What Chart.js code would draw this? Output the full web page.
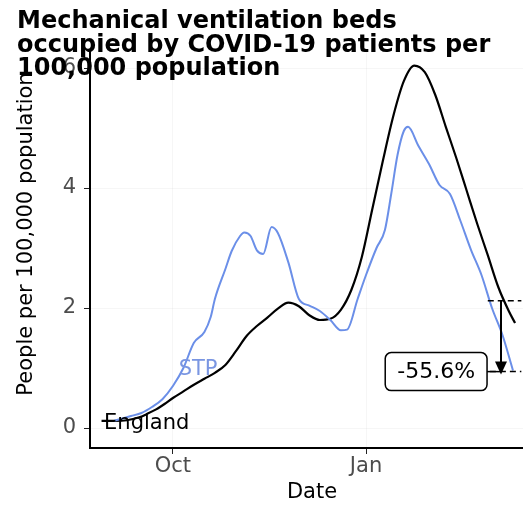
<!DOCTYPE html>
<html>
<head>
<meta charset="utf-8">
<script src="https://cdn.jsdelivr.net/npm/chart.js@4.4.1/dist/chart.umd.min.js"></script>
<style>
  html, body { margin: 0; padding: 0; background: #fff; overflow: hidden; }
  #wrap { width: 535px; height: 506px; }
</style>
</head>
<body>
<div id="wrap"><canvas id="chart" width="535" height="506"></canvas></div>
<script>
// days are counted from 1 October
const englandDays = [-34, -28, -22, -16, -12, -8, -4, 0, 5, 10, 15, 20, 25, 30, 35, 40, 45, 50, 55, 60, 65, 70, 75, 80, 85, 90, 95, 100, 105, 110, 115, 120, 125, 130, 135, 140, 145, 150, 155, 160, 163];
const englandValues = [0.12, 0.12, 0.13, 0.18, 0.24, 0.31, 0.4, 0.5, 0.61, 0.72, 0.82, 0.92, 1.05, 1.28, 1.53, 1.7, 1.84, 1.99, 2.09, 2.03, 1.88, 1.8, 1.82, 1.97, 2.3, 2.85, 3.65, 4.45, 5.2, 5.78, 6.04, 5.93, 5.55, 5.02, 4.5, 3.95, 3.4, 2.88, 2.35, 1.95, 1.75];

const stpDays = [-28, -20, -15, -10, -5, 0, 5, 10, 15, 18, 20, 25, 28, 32, 34, 37, 40, 43, 47, 50, 55, 60, 65, 70, 75, 80, 83, 88, 92, 97, 101, 104, 107, 110, 112, 117, 122, 127, 132, 137, 142, 147, 152, 157, 162];
const stpValues = [0.12, 0.2, 0.25, 0.35, 0.48, 0.7, 1.0, 1.42, 1.6, 1.85, 2.15, 2.65, 2.95, 3.2, 3.26, 3.2, 2.96, 2.9, 3.35, 3.25, 2.76, 2.15, 2.04, 1.95, 1.8, 1.63, 1.64, 2.15, 2.55, 3.0, 3.3, 3.9, 4.55, 4.95, 5.02, 4.7, 4.4, 4.05, 3.9, 3.45, 2.97, 2.55, 2.0, 1.55, 0.96];

const xTickDays = [0, 92];
const xTickLabels = ['Oct', 'Jan'];
const yTicks = [0, 2, 4, 6];

// change shown by the arrow (STP, two weeks apart)
const changeFrom = 2.12;
const changeTo = 0.94;
const changeLabel = '-55.6%';

const titleLines = ['Mechanical ventilation beds', 'occupied by COVID-19 patients per', '100,000 population'];

const BLUE = '#6b8fe8';
const FONT = '"DejaVu Sans"';

const toPoints = (xs, ys) => xs.map((d, i) => ({ x: d, y: ys[i] }));

// titles, line labels and the change annotation
const extras = {
  id: 'extras',
  afterDatasetsDraw(chart) {
    const { ctx, scales: { x, y } } = chart;
    ctx.save();

    // dashed reference levels
    ctx.strokeStyle = '#000';
    ctx.lineWidth = 1.5;
    ctx.setLineDash([6, 4]);
    ctx.beginPath();
    ctx.moveTo(x.getPixelForValue(150), y.getPixelForValue(changeFrom));
    ctx.lineTo(x.getPixelForValue(166), y.getPixelForValue(changeFrom));
    ctx.moveTo(x.getPixelForValue(151), y.getPixelForValue(changeTo));
    ctx.lineTo(x.getPixelForValue(166), y.getPixelForValue(changeTo));
    ctx.stroke();
    ctx.setLineDash([]);

    // arrow
    const ax = x.getPixelForValue(156.3);
    const y1 = y.getPixelForValue(changeFrom);
    const y2 = y.getPixelForValue(changeTo);
    ctx.lineWidth = 2;
    ctx.beginPath();
    ctx.moveTo(ax, y1);
    ctx.lineTo(ax, y2 - 8);
    ctx.stroke();
    ctx.fillStyle = '#000';
    ctx.beginPath();
    ctx.moveTo(ax - 6, y2 - 10);
    ctx.lineTo(ax + 6, y2 - 10);
    ctx.lineTo(ax, y2 + 3);
    ctx.closePath();
    ctx.fill();

    // label box
    ctx.font = '22px ' + FONT;
    const tw = ctx.measureText(changeLabel).width;
    const bw = tw + 24;
    const bx = x.getPixelForValue(125.4) - bw / 2;
    const by = y2 - 19, bh = 38;
    ctx.lineWidth = 1.5;
    ctx.beginPath();
    ctx.moveTo(bx + bw, y2);
    ctx.lineTo(ax, y2);
    ctx.stroke();
    ctx.fillStyle = '#fff';
    ctx.beginPath();
    ctx.roundRect(bx, by, bw, bh, 6);
    ctx.fill();
    ctx.stroke();
    ctx.fillStyle = '#000';
    ctx.textAlign = 'center';
    ctx.textBaseline = 'middle';
    ctx.fillText(changeLabel, bx + bw / 2, y2 + 1);

    // series labels
    ctx.font = '21px ' + FONT;
    ctx.fillStyle = '#7a96e2';
    ctx.fillText('STP', x.getPixelForValue(12), y.getPixelForValue(0.97));
    ctx.fillStyle = '#000';
    ctx.fillText('England', x.getPixelForValue(-12.5), y.getPixelForValue(0.07));

    // axis titles
    ctx.font = '21px ' + FONT;
    ctx.fillText('Date', 312, 493);
    ctx.translate(27, 234);
    ctx.rotate(-Math.PI / 2);
    ctx.fillText('People per 100,000 population', 0, 0);
    ctx.setTransform(1, 0, 0, 1, 0, 0);

    // main title
    ctx.font = 'bold 24px ' + FONT;
    ctx.textAlign = 'left';
    ctx.textBaseline = 'alphabetic';
    titleLines.forEach((t, i) => ctx.fillText(t, 17, 28 + i * 23.5));

    ctx.restore();
  }
};

new Chart(document.getElementById('chart'), {
  type: 'line',
  data: {
    datasets: [
      {
        label: 'STP',
        data: toPoints(stpDays, stpValues),
        borderColor: BLUE,
        borderWidth: 2,
        pointRadius: 0,
        cubicInterpolationMode: 'monotone',
      },
      {
        label: 'England',
        data: toPoints(englandDays, englandValues),
        borderColor: '#000',
        borderWidth: 2.2,
        pointRadius: 0,
        cubicInterpolationMode: 'monotone',
      },
    ],
  },
  options: {
    responsive: false,
    animation: false,
    devicePixelRatio: 1,
    layout: { padding: { top: 50, left: 0, right: 0, bottom: 0 } },
    plugins: { legend: { display: false }, tooltip: { enabled: false }, title: { display: false } },
    scales: {
      x: {
        type: 'linear',
        min: -39.5,
        max: 172.5,
        afterBuildTicks: (s) => { s.ticks = xTickDays.map(v => ({ value: v })); },
        afterFit: (s) => { s.height = 58; },
        ticks: {
          color: '#4d4d4d',
          font: { family: 'DejaVu Sans', size: 21 },
          padding: 0,
          maxRotation: 0,
          callback: (v) => xTickLabels[xTickDays.indexOf(v)],
        },
        grid: { color: 'rgba(0,0,0,0.035)', tickColor: '#222', tickLength: 6 },
        border: { color: '#000', width: 2 },
      },
      y: {
        min: -0.333,
        max: 6.3,
        afterBuildTicks: (s) => { s.ticks = yTicks.map(v => ({ value: v })); },
        afterFit: (s) => { s.width = 90; },
        ticks: {
          color: '#4d4d4d',
          font: { family: 'DejaVu Sans', size: 21 },
          padding: 8,
        },
        grid: { color: 'rgba(0,0,0,0.035)', tickColor: '#222', tickLength: 6 },
        border: { color: '#000', width: 2 },
      },
    },
  },
  plugins: [extras],
});
</script>
</body>
</html>
